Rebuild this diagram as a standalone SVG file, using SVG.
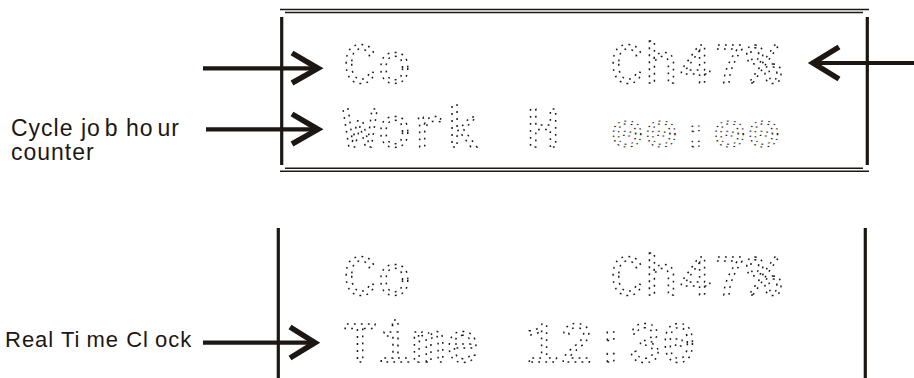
<svg xmlns="http://www.w3.org/2000/svg" width="914" height="378" viewBox="0 0 914 378">
<defs>
<style>
.vl{stroke:#1c1712;stroke-width:3.2;fill:none}
.hl{stroke:#1c1712;stroke-width:1.4;fill:none}
.lcd{font-family:"Liberation Mono","DejaVu Sans Mono",monospace;font-size:57px;fill:none;stroke:#1c1712;stroke-width:1.5;stroke-dasharray:1.8 5.2}
.lbl{font-family:"Liberation Sans",Arial,sans-serif;fill:#1c1712;letter-spacing:1px}
.ar{stroke:#1c1712;fill:none;stroke-width:4.2}
.hd{stroke:#1c1712;fill:none;stroke-width:5.5;stroke-linejoin:miter;stroke-miterlimit:10}
</style>
</defs>
<rect width="914" height="378" fill="#fff"/>
<g id="display-top">
<line class="hl" x1="280" y1="9.5" x2="869" y2="9.5"/>
<line class="hl" x1="285" y1="12.5" x2="863" y2="12.5"/>
<line class="hl" x1="285" y1="168.3" x2="863" y2="168.3"/>
<line class="hl" x1="280" y1="171.3" x2="869" y2="171.3"/>
<line class="vl" x1="281.7" y1="17" x2="281.7" y2="165"/>
<line class="vl" x1="867.3" y1="17" x2="867.3" y2="165"/>
<text class="lcd" x="343" y="83">Co</text>
<text class="lcd" x="610" y="83">Ch47%</text>
<text class="lcd" x="343" y="147">Work</text>
<text class="lcd" x="526" y="147">H</text>
<text class="lcd" transform="translate(0,147) scale(1,0.68)" x="610" y="0">00:00</text>
</g>
<g id="display-bottom">
<line class="vl" x1="278.3" y1="228" x2="278.3" y2="378"/>
<line class="vl" x1="865.3" y1="228" x2="865.3" y2="378"/>
<text class="lcd" x="343" y="295">Co</text>
<text class="lcd" x="610" y="295">Ch47%</text>
<text class="lcd" x="343" y="362">Time</text>
<text class="lcd" x="525" y="362">12:30</text>
</g>
<g id="label-cycle">
<text class="lbl" font-size="23" x="11" y="136">Cycle jo<tspan dx="4">b ho</tspan><tspan dx="4">ur</tspan></text>
<text class="lbl" font-size="23" x="11" y="160">counter</text>
</g>
<g id="label-rtc">
<text class="lbl" font-size="22" x="5" y="347" letter-spacing="1.5">Real Ti<tspan dx="6">me Cl</tspan><tspan dx="6">ock</tspan></text>
</g>
<g id="connectors">
<line class="ar" x1="203" y1="68.3" x2="316" y2="68.3"/>
<polyline class="hd" points="292,53 318,68.3 292,83"/>
<line class="ar" x1="206" y1="129.3" x2="316" y2="129.3"/>
<polyline class="hd" points="292,114 318,129.3 292,144"/>
<line class="ar" x1="914" y1="63" x2="815" y2="63"/>
<polyline class="hd" points="839,47 813,63 839,79"/>
<line class="ar" x1="203" y1="342.7" x2="313" y2="342.7"/>
<polyline class="hd" points="290,327 315,342.7 290,358"/>
</g>
</svg>
